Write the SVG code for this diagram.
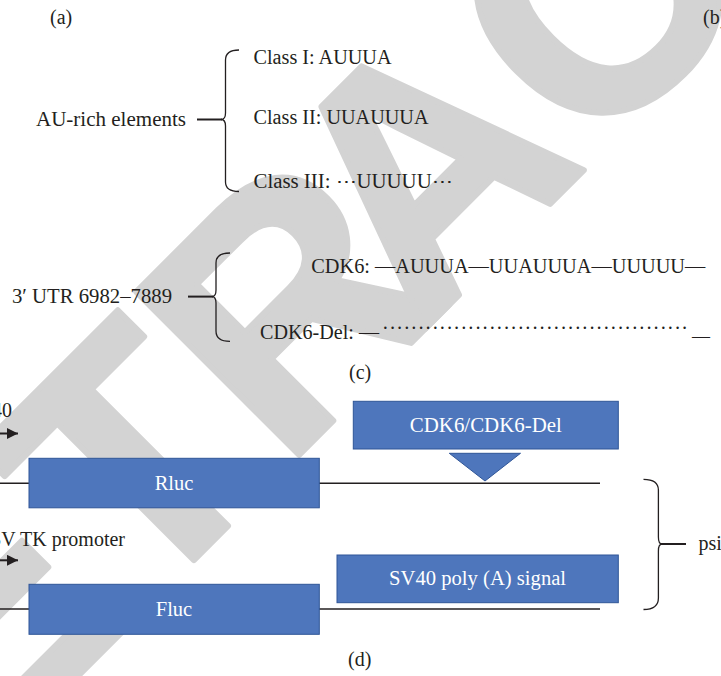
<svg xmlns="http://www.w3.org/2000/svg" width="721" height="676" viewBox="0 0 721 676">
<style>
.t{font-family:"Liberation Serif","DejaVu Serif",serif;font-size:20px;fill:#231f20}
.w{font-family:"Liberation Serif","DejaVu Serif",serif;font-size:20.5px;fill:#ffffff;text-anchor:middle}
.box{fill:#4e76bc;stroke:#2f5597;stroke-width:1}
.ln{fill:none;stroke:#231f20;stroke-width:1.4}
.ar{fill:none;stroke:#231f20;stroke-width:2}
.br{fill:none;stroke:#231f20;stroke-width:1.3}
.tk{fill:none;stroke:#231f20;stroke-width:2}
</style>
<defs>
<marker id="ah" viewBox="0 0 10 10" refX="10" refY="5" markerWidth="11" markerHeight="11" orient="auto" markerUnits="userSpaceOnUse">
<path d="M0,0 L10,5 L0,10 z" fill="#231f20"/>
</marker>
</defs>
<rect width="721" height="676" fill="#ffffff"/>
<g id="watermark">
<text transform="translate(540,214) rotate(-45)" x="-1033" y="0" font-family="Liberation Sans" font-weight="bold" font-size="335" fill="#d3d3d3" stroke="#d3d3d3" stroke-width="6" stroke-linejoin="round">RETR<tspan dx="-50">ACTED</tspan></text>
</g>
<g id="panel-labels">
<text class="t" x="50" y="24">(a)</text>
<text class="t" x="703" y="24">(b)</text>
<text class="t" x="349" y="378.5">(c)</text>
<text class="t" x="348" y="666">(d)</text>
</g>
<g id="connectors">
<path class="br" d="M239,50 Q225.5,50 225.5,60 L225.5,113 Q225.5,119.5 221,119.5 Q225.5,119.5 225.5,126 L225.5,182 Q225.5,191.5 239,191.5"/>
<line class="tk" x1="197" y1="119.5" x2="222" y2="119.5"/>
<path class="br" d="M230,253 Q216,253 216,263 L216,290 Q216,296.6 212,296.6 Q216,296.6 216,303 L216,331 Q216,341.4 230,341.4"/>
<line class="tk" x1="188" y1="296.6" x2="213" y2="296.6"/>
<line class="ln" x1="0" y1="483.3" x2="600" y2="483.3"/>
<line class="ln" x1="0" y1="609" x2="600" y2="609"/>
<line class="ar" x1="0" y1="433.5" x2="18" y2="433.5" marker-end="url(#ah)"/>
<line class="ar" x1="0" y1="560.3" x2="18" y2="560.3" marker-end="url(#ah)"/>
<path class="br" d="M643.5,479.3 Q658.4,479.3 658.4,490 L658.4,537 Q658.4,544 662,544 Q658.4,544 658.4,551 L658.4,598 Q658.4,609.5 643.5,609.5"/>
<line class="tk" x1="661" y1="544" x2="686" y2="544"/>
</g>
<g id="n-au-rich"><text class="t" x="36" y="126" textLength="150" lengthAdjust="spacingAndGlyphs">AU-rich elements</text></g>
<g id="n-class1"><text class="t" x="253.5" y="63.5" textLength="138" lengthAdjust="spacingAndGlyphs">Class I: AUUUA</text></g>
<g id="n-class2"><text class="t" x="253.5" y="123.5" textLength="175" lengthAdjust="spacingAndGlyphs">Class II: UUAUUUA</text></g>
<g id="n-class3"><text class="t" x="253.5" y="188" textLength="199" lengthAdjust="spacingAndGlyphs">Class III: ⋯UUUUU⋯</text></g>
<g id="n-utr"><text class="t" x="12" y="303" textLength="160" lengthAdjust="spacingAndGlyphs">3′ UTR 6982–7889</text></g>
<g id="n-cdk6"><text class="t" x="311.3" y="273" textLength="394" lengthAdjust="spacingAndGlyphs">CDK6: —AUUUA—UUAUUUA—UUUUU—</text></g>
<g id="n-cdk6del">
<text class="t" x="260" y="338.5" textLength="119" lengthAdjust="spacingAndGlyphs">CDK6-Del: —</text>
<text class="t" x="382" y="335" textLength="306" lengthAdjust="spacing">···········································</text>
<text class="t" x="692" y="343" textLength="18" lengthAdjust="spacingAndGlyphs">—</text>
</g>
<g id="n-sv40-label"><text class="t" x="12" y="416.5" text-anchor="end">SV40</text></g>
<g id="n-hsv-label"><text class="t" x="125" y="545.5" text-anchor="end">HSV TK promoter</text></g>
<g id="n-rluc"><rect class="box" x="29" y="458.3" width="290.3" height="49.5"/><text class="w" x="174" y="489.5">Rluc</text></g>
<g id="n-fluc"><rect class="box" x="29" y="584.3" width="290.3" height="50"/><text class="w" x="174" y="615.5">Fluc</text></g>
<g id="n-cdk6box"><rect class="box" x="353.3" y="401.3" width="265" height="47.7"/><text class="w" x="485.8" y="431.5" textLength="152" lengthAdjust="spacingAndGlyphs">CDK6/CDK6-Del</text></g>
<g id="n-insert"><path class="box" d="M449.3,453.3 L520.5,453.3 L485,481 z"/></g>
<g id="n-sv40box"><rect class="box" x="337" y="555" width="281.3" height="47.7"/><text class="w" x="477.6" y="585" textLength="177" lengthAdjust="spacingAndGlyphs">SV40 poly (A) signal</text></g>
<g id="n-psi"><text class="t" x="698.5" y="550">psiCHECK-2</text></g>
</svg>
